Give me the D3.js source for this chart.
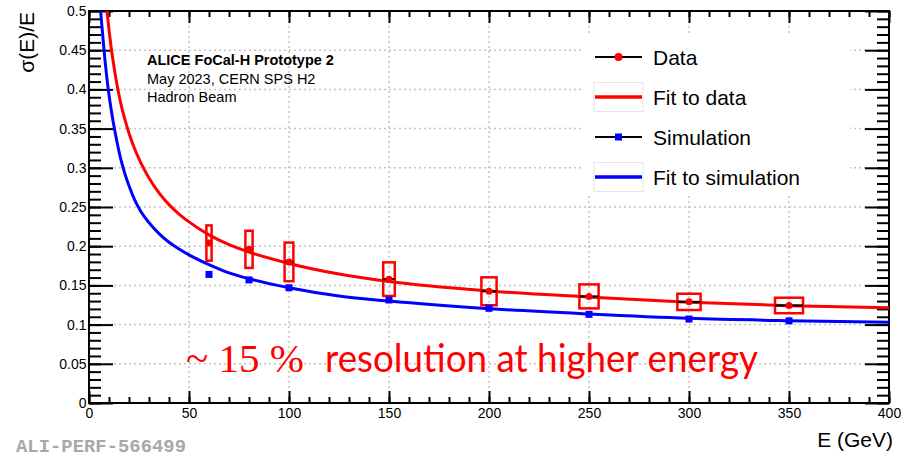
<!DOCTYPE html>
<html>
<head>
<meta charset="utf-8">
<script src="https://cdn.jsdelivr.net/npm/d3@7"></script>
<style>
  body { margin: 0; background: #fff; }
  svg { display: block; font-family: "Liberation Sans", Arial, sans-serif; }
</style>
</head>
<body>
<svg id="chart" width="915" height="456"></svg>
<script>
// measured points (E in GeV)
var energies = [60, 80, 100, 150, 200, 250, 300, 350];
var dataSigma = [0.204, 0.196, 0.180, 0.158, 0.1425, 0.136, 0.129, 0.1244];
var dataSystHalf = [0.0225, 0.0237, 0.0246, 0.0214, 0.0178, 0.0153, 0.0104, 0.0099];
var dataEHalf = [1.3, 1.8, 2.2, 2.9, 3.8, 4.8, 5.8, 7.0];
var simSigma = [0.164, 0.157, 0.147, 0.1314, 0.1208, 0.1131, 0.1071, 0.1048];

// fit curves
var fitDataE = [9, 10, 11, 12, 14, 16, 18, 20, 23, 26, 30, 35, 40, 45, 50, 60, 70, 80, 100, 125, 150, 200, 250, 300, 350, 400];
var fitDataSigma = [0.5, 0.476, 0.455, 0.437, 0.406, 0.381, 0.361, 0.344, 0.323, 0.306, 0.287, 0.268, 0.253, 0.241, 0.231, 0.2145, 0.202, 0.1925, 0.178, 0.1645, 0.155, 0.143, 0.1352, 0.1285, 0.1242, 0.1214];
var fitSimE = [5.8, 7, 8, 9, 10, 12, 14, 16, 18, 20, 23, 26, 30, 35, 40, 45, 50, 60, 70, 80, 100, 125, 150, 200, 250, 300, 350, 400];
var fitSimSigma = [0.5, 0.465, 0.437, 0.413, 0.393, 0.360, 0.333, 0.310, 0.292, 0.277, 0.258, 0.244, 0.230, 0.216, 0.205, 0.1965, 0.189, 0.1765, 0.166, 0.1585, 0.147, 0.1365, 0.130, 0.1203, 0.1135, 0.108, 0.105, 0.103];

// axes
var xTicks = [0, 50, 100, 150, 200, 250, 300, 350, 400];
var yTicks = [0, 0.05, 0.1, 0.15, 0.2, 0.25, 0.3, 0.35, 0.4, 0.45, 0.5];
var yTickLabels = ["0", "0.05", "0.1", "0.15", "0.2", "0.25", "0.3", "0.35", "0.4", "0.45", "0.5"];
var xTitle = "E (GeV)";
var yTitle = "σ(E)/E";

var legendLabels = ["Data", "Fit to data", "Simulation", "Fit to simulation"];
var infoLines = ["ALICE FoCal-H Prototype 2", "May 2023, CERN SPS H2", "Hadron Beam"];
var noteSymbol = "~ 15 %";
var noteText = "resolution at higher energy";
var figId = "ALI-PERF-566499";

var svg = d3.select("#chart");
var frameL = 89, frameR = 889, frameT = 11, frameB = 403;

var x = d3.scaleLinear().domain([0, 400]).range([frameL, frameR]);
var y = d3.scaleLinear().domain([0, 0.5]).range([frameB, frameT]);

svg.append("clipPath").attr("id", "frameClip")
  .append("rect")
    .attr("x", frameL).attr("y", frameT)
    .attr("width", frameR - frameL).attr("height", frameB - frameT);

//grid
var grid = svg.append("g")
  .attr("stroke", "#c4c4c4")
  .attr("stroke-width", 1.5)
  .attr("stroke-dasharray", "2 3");
grid.selectAll(".gx").data(xTicks.slice(1, -1)).enter().append("line")
  .attr("x1", d => x(d)).attr("x2", d => x(d))
  .attr("y1", frameT).attr("y2", frameB);
grid.selectAll(".gy").data(yTicks.slice(1, -1)).enter().append("line")
  .attr("x1", frameL).attr("x2", frameR)
  .attr("y1", d => y(d)).attr("y2", d => y(d));

// legend background hides the grid
svg.append("rect")
  .attr("x", 583).attr("y", 36)
  .attr("width", 267).attr("height", 159)
  .attr("fill", "#fff");

//axes: major + minor ticks on all four sides
var minorX = d3.range(0, 401, 10);
var minorY = d3.range(0, 51, 1).map(d => d / 100);

function styleAxis(g) {
  g.select(".domain").remove();
  g.selectAll(".tick line").attr("stroke", "#000").attr("stroke-width", 2);
  g.selectAll(".tick text")
    .attr("fill", "#000")
    .style("font-family", "'Liberation Sans', Arial, sans-serif")
    .style("font-size", "14px");
}

svg.append("g").attr("transform", "translate(0," + frameB + ")")
  .call(d3.axisBottom(x).tickValues(minorX).tickSize(-6).tickSizeOuter(0).tickFormat(""))
  .call(styleAxis);
svg.append("g").attr("transform", "translate(0," + frameB + ")")
  .call(d3.axisBottom(x).tickValues(xTicks).tickSize(-12).tickSizeOuter(0).tickPadding(5).tickFormat(d3.format("d")))
  .call(styleAxis);
svg.append("g").attr("transform", "translate(0," + frameT + ")")
  .call(d3.axisTop(x).tickValues(minorX).tickSize(-6).tickSizeOuter(0).tickFormat(""))
  .call(styleAxis);
svg.append("g").attr("transform", "translate(0," + frameT + ")")
  .call(d3.axisTop(x).tickValues(xTicks).tickSize(-12).tickSizeOuter(0).tickFormat(""))
  .call(styleAxis);

svg.append("g").attr("transform", "translate(" + frameL + ",0)")
  .call(d3.axisLeft(y).tickValues(minorY).tickSize(-12).tickSizeOuter(0).tickFormat(""))
  .call(styleAxis);
svg.append("g").attr("transform", "translate(" + frameL + ",0)")
  .call(d3.axisLeft(y).tickValues(yTicks).tickSize(-24).tickSizeOuter(0).tickPadding(2.5)
    .tickFormat((d, i) => yTickLabels[i]))
  .call(styleAxis);
svg.append("g").attr("transform", "translate(" + frameR + ",0)")
  .call(d3.axisRight(y).tickValues(minorY).tickSize(-12).tickSizeOuter(0).tickFormat(""))
  .call(styleAxis);
svg.append("g").attr("transform", "translate(" + frameR + ",0)")
  .call(d3.axisRight(y).tickValues(yTicks).tickSize(-24).tickSizeOuter(0).tickFormat(""))
  .call(styleAxis);

// frame
svg.append("rect")
  .attr("x", frameL).attr("y", frameT)
  .attr("width", frameR - frameL).attr("height", frameB - frameT)
  .attr("fill", "none").attr("stroke", "#000").attr("stroke-width", 2);

// axis titles
svg.append("text")
  .attr("x", 893).attr("y", 447)
  .attr("text-anchor", "end")
  .style("font-size", "21px")
  .text(xTitle);
svg.append("text")
  .attr("transform", "translate(34,12) rotate(-90)")
  .attr("text-anchor", "end")
  .style("font-size", "21px")
  .text(yTitle);

var plot = svg.append("g").attr("clip-path", "url(#frameClip)");

// systematic boxes
plot.selectAll(".syst").data(energies).enter().append("rect")
  .attr("x", (d, i) => x(d - dataEHalf[i]))
  .attr("y", (d, i) => y(dataSigma[i] + dataSystHalf[i]))
  .attr("width", (d, i) => x(d + dataEHalf[i]) - x(d - dataEHalf[i]))
  .attr("height", (d, i) => y(dataSigma[i] - dataSystHalf[i]) - y(dataSigma[i] + dataSystHalf[i]))
  .attr("fill", "none")
  .attr("stroke", "#ff0000")
  .attr("stroke-width", 2.5);

// fit curves
var line = d3.line().curve(d3.curveMonotoneX)
  .x(d => x(d[0])).y(d => y(d[1]));

plot.append("path")
  .datum(fitDataE.map((e, i) => [e, fitDataSigma[i]]))
  .attr("d", line)
  .attr("fill", "none").attr("stroke", "#ff0000").attr("stroke-width", 3);
plot.append("path")
  .datum(fitSimE.map((e, i) => [e, fitSimSigma[i]]))
  .attr("d", line)
  .attr("fill", "none").attr("stroke", "#0000ff").attr("stroke-width", 3);

// error bars along E
plot.selectAll(".xerr").data(energies).enter().append("line")
  .attr("x1", (d, i) => x(d - dataEHalf[i]))
  .attr("x2", (d, i) => x(d + dataEHalf[i]))
  .attr("y1", (d, i) => y(dataSigma[i]))
  .attr("y2", (d, i) => y(dataSigma[i]))
  .attr("stroke", "#000").attr("stroke-width", 2);

// simulation squares
plot.selectAll(".sim").data(energies).enter().append("rect")
  .attr("x", d => x(d) - 3.5)
  .attr("y", (d, i) => y(simSigma[i]) - 3.5)
  .attr("width", 7).attr("height", 7)
  .attr("fill", "#0000ff");

// data markers
plot.selectAll(".dat").data(energies).enter().append("circle")
  .attr("cx", d => x(d))
  .attr("cy", (d, i) => y(dataSigma[i]))
  .attr("r", 3.5)
  .attr("fill", "#ff0000");

// info text
svg.selectAll(".info").data(infoLines).enter().append("text")
  .attr("x", 147)
  .attr("y", (d, i) => [65, 84, 102][i])
  .style("font-size", "14.5px")
  .style("font-weight", (d, i) => i == 0 ? "bold" : "normal")
  .text(d => d);

// legend
var legend = svg.append("g");
legendLabels.forEach(function(label, i) {
  var cy = 57 + i * 40;
  if (i % 2 == 1) {
    legend.append("rect")
      .attr("x", 594).attr("y", cy - 14.5)
      .attr("width", 49).attr("height", 29)
      .attr("fill", "none").attr("stroke", "#e6e6e6").attr("stroke-width", 1);
  }
  legend.append("line")
    .attr("x1", 595).attr("x2", 642)
    .attr("y1", cy).attr("y2", cy)
    .attr("stroke", i == 0 || i == 2 ? "#000" : (i == 1 ? "#ff0000" : "#0000ff"))
    .attr("stroke-width", i % 2 == 1 ? 3.5 : 2);
  if (i == 0) {
    legend.append("circle").attr("cx", 618.5).attr("cy", cy).attr("r", 4).attr("fill", "#ff0000");
  }
  if (i == 2) {
    legend.append("rect").attr("x", 615).attr("y", cy - 3.5).attr("width", 7).attr("height", 7).attr("fill", "#0000ff");
  }
  legend.append("text")
    .attr("x", 653).attr("y", cy + 8)
    .style("font-size", "21px")
    .text(label);
});

// note in red
svg.append("text")
  .attr("x", 186).attr("y", 372)
  .attr("textLength", 118).attr("lengthAdjust", "spacingAndGlyphs")
  .style("font-family", "'Liberation Serif', 'Times New Roman', serif")
  .style("font-size", "40px")
  .attr("fill", "#ff0000")
  .text(noteSymbol);
svg.append("text")
  .attr("x", 325).attr("y", 372)
  .attr("textLength", 433).attr("lengthAdjust", "spacingAndGlyphs")
  .style("font-family", "Lato, 'Open Sans', sans-serif")
  .style("font-size", "38px")
  .attr("fill", "#ff0000")
  .text(noteText);

// figure id
svg.append("text")
  .attr("x", 16).attr("y", 452)
  .attr("textLength", 170).attr("lengthAdjust", "spacingAndGlyphs")
  .style("font-family", "'Liberation Mono', 'Courier New', monospace")
  .style("font-size", "18px")
  .style("font-weight", "bold")
  .attr("fill", "#a8a8a8")
  .text(figId);
</script>
</body>
</html>
